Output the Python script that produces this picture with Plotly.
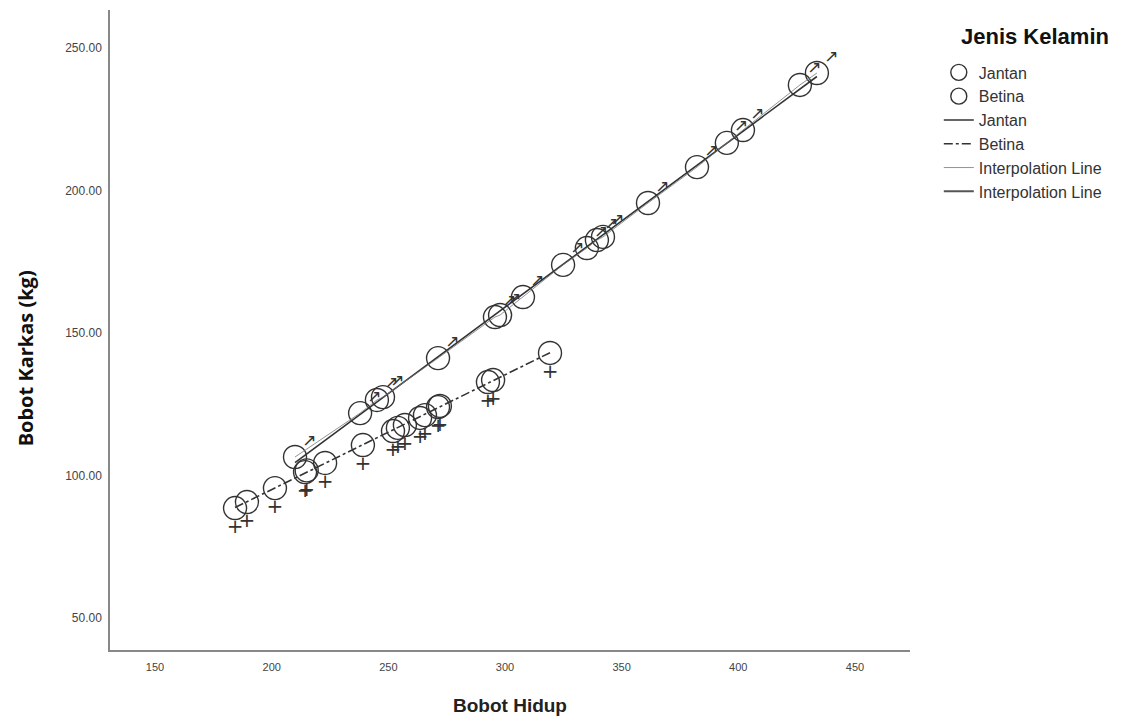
import numpy as np
import plotly.graph_objects as go

# Data
jantan_hidup = [210.0, 237.9, 245.1, 247.7, 271.3, 295.7, 297.9, 307.7, 324.9,
                335.1, 339.4, 342.0, 361.3, 382.3, 395.1, 402.0, 426.4, 433.7]
jantan_karkas = [106.5, 121.9, 126.5, 127.5, 141.2, 155.6, 156.3, 162.6, 173.9,
                 179.8, 182.6, 183.7, 195.6, 208.2, 216.7, 221.2, 237.0, 241.2]

betina_hidup = [184.3, 189.4, 201.4, 214.3, 215.0, 222.9, 239.1, 252.0, 254.1,
                257.1, 263.6, 265.7, 271.3, 272.1, 292.7, 294.9, 319.3]
betina_karkas = [88.6, 90.7, 95.6, 101.2, 101.8, 104.4, 110.7, 115.6, 116.7,
                 117.7, 120.2, 121.2, 124.0, 124.4, 132.8, 133.5, 143.0]

x_ticks = [150, 200, 250, 300, 350, 400, 450]
y_ticks = [50, 100, 150, 200, 250]

ink = "#333333"
fig = go.Figure()

# Gender glyph parts (arrow for male, cross for female), drawn as text offset from the points
fig.add_trace(go.Scatter(
    x=jantan_hidup, y=jantan_karkas, mode="markers+text", showlegend=False,
    text=["↗"] * len(jantan_hidup), textposition="top right",
    textfont=dict(size=17, color=ink, family="DejaVu Sans"),
    marker=dict(size=10, color="rgba(0,0,0,0)"), hoverinfo="skip"))
fig.add_trace(go.Scatter(
    x=betina_hidup, y=betina_karkas, mode="markers+text", showlegend=False,
    text=["+"] * len(betina_hidup), textposition="bottom center",
    textfont=dict(size=20, color=ink, family="DejaVu Sans"),
    marker=dict(size=15, color="rgba(0,0,0,0)"), hoverinfo="skip"))

# Scatter markers
fig.add_trace(go.Scatter(
    x=jantan_hidup, y=jantan_karkas, mode="markers", name="Jantan",
    marker=dict(symbol="circle-open", size=23, color=ink, line=dict(width=1.4)),
    legendgroup="a"))
fig.add_trace(go.Scatter(
    x=betina_hidup, y=betina_karkas, mode="markers", name="Betina",
    marker=dict(symbol="circle-open", size=23, color=ink, line=dict(width=1.4)),
    legendgroup="b"))

# Fit lines
def fit(xs, ys):
    xs = np.array(xs); ys = np.array(ys)
    b, a = np.polyfit(xs, ys, 1)
    xl = np.array([xs.min(), xs.max()])
    return xl, a + b * xl

xm, ym = fit(jantan_hidup, jantan_karkas)
xf, yf = fit(betina_hidup, betina_karkas)
fig.add_trace(go.Scatter(x=xm, y=ym, mode="lines", name="Jantan",
                         line=dict(color=ink, width=1.6), legendgroup="c"))
fig.add_trace(go.Scatter(x=xf, y=yf, mode="lines", name="Betina",
                         line=dict(color=ink, width=1.6, dash="dashdot"), legendgroup="d"))

# Interpolation lines
order = np.argsort(jantan_hidup)
fig.add_trace(go.Scatter(x=np.array(jantan_hidup)[order], y=np.array(jantan_karkas)[order],
                         mode="lines", name="Interpolation Line",
                         line=dict(color="#777", width=0.8), legendgroup="e"))
fig.add_trace(go.Scatter(x=[None], y=[None], mode="lines", name="Interpolation Line",
                         line=dict(color="#555", width=2), legendgroup="f"))

fig.update_layout(
    width=1122, height=714,
    margin=dict(l=102, r=220, t=2, b=72),
    plot_bgcolor="white", paper_bgcolor="white",
    font=dict(family="Liberation Sans, Arial, sans-serif", color="#222"),
    legend=dict(
        x=1.036, xanchor="left", y=0.929, yanchor="top",
        font=dict(size=16, color="#333"), traceorder="grouped", tracegroupgap=0,
        itemwidth=30, bgcolor="rgba(0,0,0,0)"),
    xaxis=dict(range=[130.7, 473.6], tickvals=x_ticks, ticktext=[str(v) for v in x_ticks],
               showgrid=False, zeroline=False, showline=True, linecolor="#888", linewidth=1.5,
               ticks="outside", ticklen=6, tickcolor="rgba(0,0,0,0)", automargin=False,
               tickfont=dict(size=11, color="#444"),
               title=dict(text="<b>Bobot Hidup</b>", font=dict(size=19, color="#222"), standoff=27)),
    yaxis=dict(range=[38.8, 263.3], tickvals=y_ticks, ticktext=[f"{v:.2f}" for v in y_ticks],
               showgrid=False, zeroline=False, showline=True, linecolor="#888", linewidth=1.5,
               ticks="outside", ticklen=4, tickcolor="rgba(0,0,0,0)", automargin=False,
               tickfont=dict(size=12, color="#444")),
    annotations=[
        dict(text="<b>Bobot Karkas (kg)</b>", textangle=-90,
             xref="paper", yref="paper", x=-0.106, y=0.456,
             xanchor="center", yanchor="middle", showarrow=False,
             font=dict(family="Open Sans, sans-serif", size=20, color="#111")),
        dict(text="<b>Jenis Kelamin</b>", xref="paper", yref="paper",
             x=1.156, y=0.959, xanchor="center", yanchor="middle", showarrow=False,
             font=dict(size=22, color="#111")),
    ],
)

fig.write_html("out.html")
